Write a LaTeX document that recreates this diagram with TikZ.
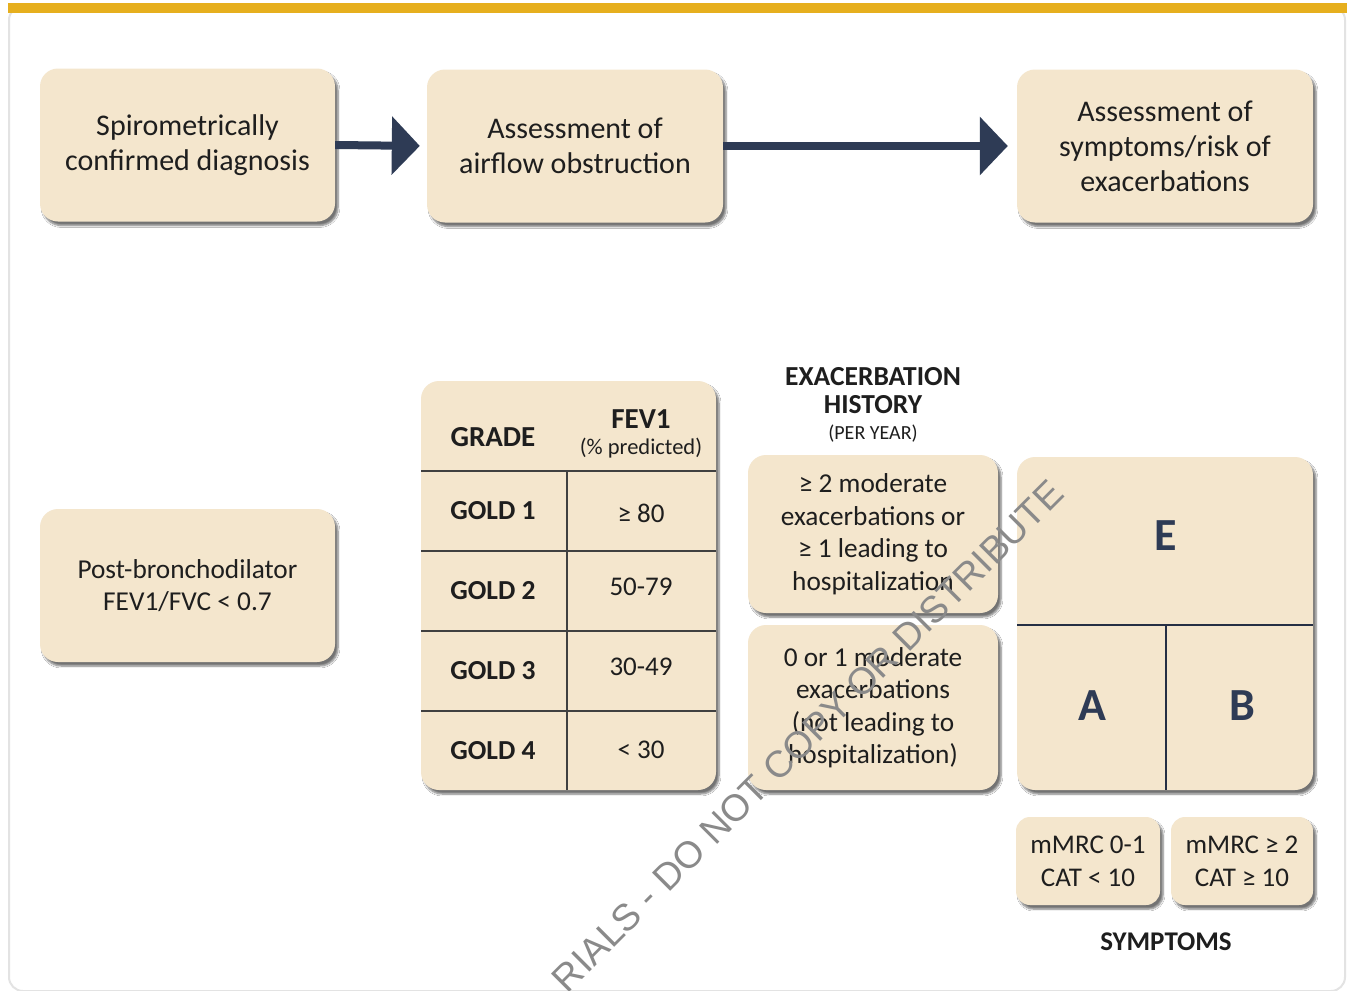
\documentclass[tikz,border=0pt]{standalone}
\usepackage{fontspec}
\setmainfont{Carlito}
\newfontfamily\wmfont{Liberation Sans}
\usetikzlibrary{shadows.blur,arrows.meta}
\definecolor{boxfill}{HTML}{F4E6CD}
\definecolor{navy}{HTML}{2E3B55}
\definecolor{gold}{HTML}{E6AF1E}
\definecolor{txt}{HTML}{1E1E1E}
\definecolor{rule}{HTML}{404040}
\tikzset{
  card/.style={rounded corners=18pt, fill=boxfill, draw=none, inner sep=0pt,
    blur shadow={shadow xshift=3pt, shadow yshift=-4pt, shadow blur steps=6, shadow opacity=55},
    text=txt, align=center},
  bigtxt/.style={font=\fontsize{30}{35}\selectfont},
  midtxt/.style={font=\fontsize{27.3}{32.5}\selectfont},
  boldtxt/.style={font=\fontsize{27.5}{30}\selectfont\bfseries, text=txt},
  valtxt/.style={font=\fontsize{27}{30}\selectfont, text=txt},
  letter/.style={font=\fontsize{46}{50}\selectfont\bfseries, text=navy},
  arr/.style={draw=navy, line width=8pt, -{Triangle[length=28pt,width=57pt]}},
  tline/.style={draw=rule, line width=1.6pt},
  wm/.style={font=\wmfont\fontsize{37.5}{38}\selectfont, text=black!46, inner sep=0pt}
}
\begin{document}
\begin{tikzpicture}[x=1pt,y=-1pt]
\useasboundingbox (0,0) rectangle (1351,990);
\fill[white] (0,0) rectangle (1351,990);
% card frame and gold bar
\draw[black!11, line width=2pt, rounded corners=14pt] (9,6) rectangle (1345,991);
\fill[gold] (8,3) rectangle (1347,13);

% top row
\node[card, bigtxt, minimum width=295pt, minimum height=153pt] (spiro) at (187.5,145) {Spirometrically\\confirmed diagnosis};
\node[card, bigtxt, minimum width=296pt, minimum height=153pt] (airflow) at (575,146) {Assessment of\\airflow obstruction};
\node[card, bigtxt, minimum width=296pt, minimum height=153pt] (symp) at (1165,146) {Assessment of\\symptoms/risk of\\exacerbations};
\draw[arr, shorten >=7pt] (spiro.east) -- (airflow.west);
\draw[arr, shorten >=9pt] (airflow.east) -- (symp.west);

% post-bronchodilator
\node[card, midtxt, minimum width=295pt, minimum height=153pt] (post) at (187.5,585.5) {Post-bronchodilator\\FEV1/FVC {<} 0.7};

% table
\node[card, minimum width=295pt, minimum height=409pt] (table) at (568.5,585.5) {};
\draw[tline] (421,471) -- (716,471);
\draw[tline] (421,551) -- (716,551);
\draw[tline] (421,631) -- (716,631);
\draw[tline] (421,711) -- (716,711);
\draw[tline] (567,471) -- (567,790);
\node[font=\fontsize{29}{30}\selectfont\bfseries, text=txt] (grade) at (493,437) {GRADE};
\node[font=\fontsize{29}{30}\selectfont\bfseries, text=txt] (fev) at (641,419) {FEV1};
\node[font=\fontsize{22.5}{24}\selectfont, text=txt] (pred) at (641,448) {(\% predicted)};
\node[boldtxt] (g1) at (493,511) {GOLD 1};
\node[boldtxt] (g2) at (493,591) {GOLD 2};
\node[boldtxt] (g3) at (493,671) {GOLD 3};
\node[boldtxt] (g4) at (493,751) {GOLD 4};
\node[valtxt] (v1) at (641,513) {≥ 80};
\node[valtxt] (v2) at (641,587) {50-79};
\node[valtxt] (v3) at (641,667) {30-49};
\node[valtxt] (v4) at (641,750) {< 30};

% exacerbation history
\node[font=\fontsize{27.5}{28}\selectfont\bfseries, text=txt, align=center] (exh) at (873,391) {EXACERBATION\\HISTORY};
\node[font=\fontsize{20}{22}\selectfont, text=txt] (peryear) at (873,434) {(PER YEAR)};
\node[card, midtxt, minimum width=250pt, minimum height=158pt] (ex1) at (873,534) {≥ 2 moderate\\exacerbations or\\≥ 1 leading to\\hospitalization};
\node[card, midtxt, minimum width=250pt, minimum height=165pt] (ex2) at (873,707.5) {0 or 1 moderate\\exacerbations\\(not leading to\\hospitalization)};

% groups grid
\node[card, minimum width=296pt, minimum height=333pt] (grid) at (1165,623.5) {};
\draw[tline, draw=navy!80!black] (1017,625) -- (1313,625);
\draw[tline, draw=navy!80!black] (1166,625) -- (1166,790);
\node[letter] (E) at (1166,536) {E};
\node[letter] (A) at (1092,706) {A};
\node[letter] (B) at (1242,706) {B};

% symptoms
\node[card, font=\fontsize{27}{33}\selectfont, minimum width=144pt, minimum height=88pt, rounded corners=14pt] (s1) at (1088,861) {mMRC 0-1\\CAT {<} 10};
\node[card, font=\fontsize{27}{33}\selectfont, minimum width=142pt, minimum height=88pt, rounded corners=14pt] (s2) at (1242,861) {mMRC ≥ 2\\CAT ≥ 10};
\node[font=\fontsize{27}{28}\selectfont\bfseries, text=txt] (symlab) at (1166,942) {SYMPTOMS};

% watermark
\node[wm, rotate=45, anchor=base east] (wmark) at (1066,496) {RIALS - DO NOT COPY OR DISTRIBUTE};
\end{tikzpicture}
\end{document}
